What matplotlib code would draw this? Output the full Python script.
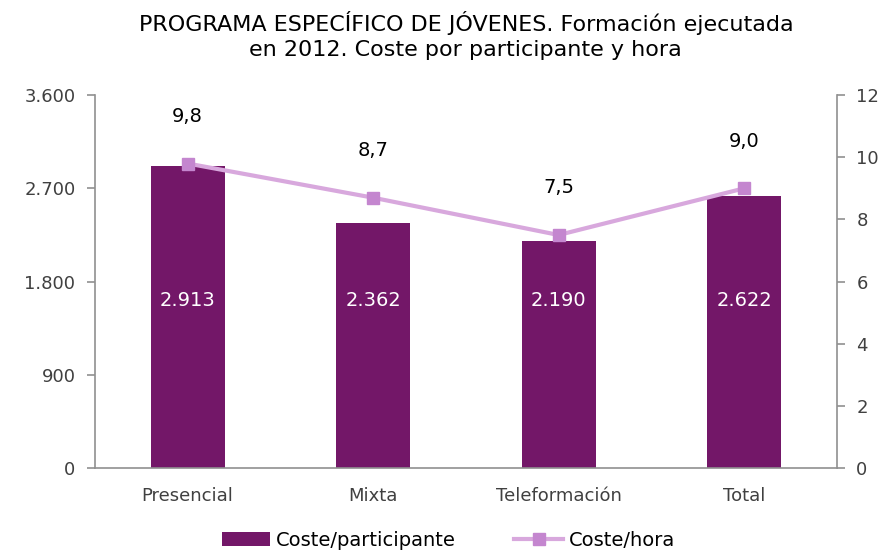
import matplotlib.pyplot as plt
from matplotlib.ticker import FuncFormatter
from matplotlib.lines import Line2D
from matplotlib.patches import Patch

BAR = "#731768"
LINE = "#d8a8dd"
MARK = "#c486cf"
GREY = "#404040"

plt.rcParams.update({
    "font.family": ["DejaVu Sans"],
    "font.size": 13,
})

categories = ["Presencial", "Mixta", "Teleformación", "Total"]
coste_participante = [2913, 2362, 2190, 2622]
coste_hora = [9.8, 8.7, 7.5, 9.0]
bar_labels = ["2.913", "2.362", "2.190", "2.622"]
hora_labels = ["9,8", "8,7", "7,5", "9,0"]

fig = plt.figure(figsize=(8.79, 5.5), dpi=100)
ax = fig.add_axes([0.108, 0.149, 0.844, 0.678])
x = range(len(categories))

ax.bar(x, coste_participante, width=0.4, color=BAR, zorder=2)
ax.set_xlim(-0.5, 3.5)
ax.set_ylim(0, 3600)
ax.set_yticks([0, 900, 1800, 2700, 3600])
ax.yaxis.set_major_formatter(FuncFormatter(lambda v, p: f"{int(v):,}".replace(",", ".")))
ax.set_xticks(list(x))
ax.set_xticklabels(categories)

for i, lab in enumerate(bar_labels):
    ax.text(i, 1620, lab, ha="center", va="center", color="white", fontsize=14)

ax2 = ax.twinx()
ax2.plot(x, coste_hora, color=LINE, linewidth=3, marker="s", markersize=8,
         markerfacecolor=MARK, markeredgecolor=MARK, zorder=3)
ax2.set_ylim(0, 12)
ax2.set_yticks(range(0, 13, 2))
for i, lab in enumerate(hora_labels):
    ax2.annotate(lab, (i, coste_hora[i]), xytext=(0, 34), textcoords="offset points",
                 ha="center", va="center", fontsize=14, color="black")

for a in (ax, ax2):
    a.spines["top"].set_visible(False)
    for s in ("left", "right", "bottom"):
        a.spines[s].set_color("#909090")
        a.spines[s].set_linewidth(1.2)
    a.tick_params(colors="#909090", labelcolor=GREY, length=6, width=1.2, labelsize=13, pad=8)
ax.tick_params(axis="x", length=0, pad=14)
ax.spines["right"].set_visible(False)
ax2.spines["left"].set_visible(False)
ax2.spines["bottom"].set_visible(False)

ax.set_title("PROGRAMA ESPECÍFICO DE JÓVENES. Formación ejecutada\nen 2012. Coste por participante y hora",
             fontsize=16, pad=28, linespacing=1.3)

handles = [
    Patch(facecolor=BAR, label="Coste/participante"),
    Line2D([], [], color=LINE, linewidth=3, marker="s", markersize=8,
           markerfacecolor=MARK, markeredgecolor=MARK, label="Coste/hora"),
]
fig.legend(handles=handles, loc="lower center", bbox_to_anchor=(0.51, -0.032), ncol=2,
           frameon=False, fontsize=14, handlelength=2.5, columnspacing=3, handletextpad=0.3)

plt.savefig("out.png", dpi=100)
